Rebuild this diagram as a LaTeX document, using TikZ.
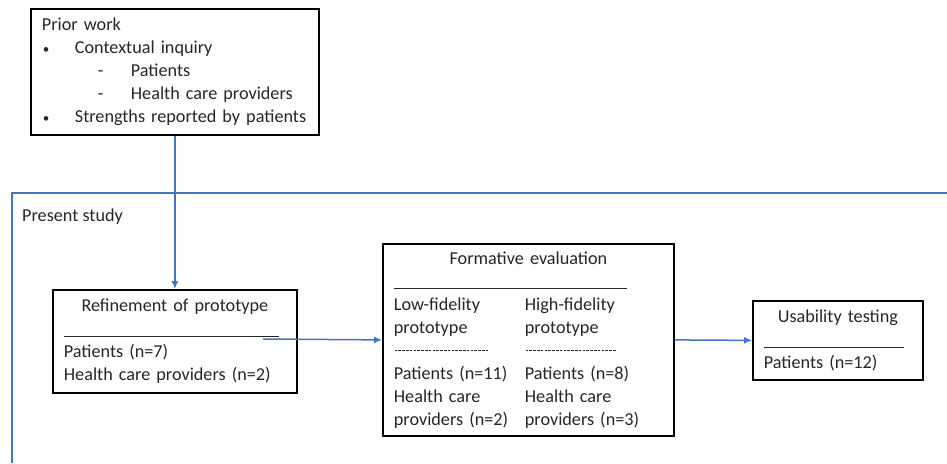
\documentclass[tikz,border=0pt]{standalone}
\usepackage{fontspec}
\setmainfont{Carlito}
\usepackage{tikz}
\usetikzlibrary{arrows.meta}
\definecolor{flowblue}{HTML}{4472C4}
\tikzset{box/.style={draw, line width=1.8pt, anchor=north west, inner xsep=11pt, inner ysep=0pt, align=left, font=\fontsize{18.2}{23}\selectfont, text=black!85}}
\tikzset{
		% blue connectors and the frame of the present study
		flow/.style={draw=flowblue, line width=1.5pt, -{Latex[length=8pt,width=7pt]}},
		frame/.style={draw=flowblue, line width=1.5pt},
	}
\newcommand{\uline}[1]{\rule[-2pt]{#1}{0.8pt}}
\newcommand{\dline}[1]{\makebox[#1][l]{\leaders\hbox to 3.8pt{\hss\rule[5.5pt]{2.6pt}{0.5pt}\hss}\hskip #1}}
\newcommand{\bul}{\makebox[33pt][l]{\hspace*{1pt}{\fontsize{13}{13}\selectfont •}}}
\begin{document}
\begin{tikzpicture}[x=1pt,y=-1pt]
		\useasboundingbox (0,0) rectangle (947,463);
		
		\node[box, minimum width=288pt, text width=266pt, minimum height=126pt] (prior) at (30,8) {Prior work\\
			\mbox{\bul Contextual inquiry}\\
			\mbox{\hspace*{56pt}\makebox[33pt][l]{-}Patients}\\
			\mbox{\hspace*{56pt}\makebox[33pt][l]{-}Health care providers}\\
			\mbox{\bul Strengths reported by patients}};
		
		\coordinate (fbl) at (12,463);
		\coordinate (ftr) at (947,193);
		\draw[frame] (fbl) |- (ftr);
		\node[anchor=west, inner sep=0pt, font=\fontsize{18.2}{23}\selectfont, text=black!85] (present) at (22,217) {Present study};
		
		\node[box, minimum width=244pt, text width=222pt, minimum height=103pt] (refine) at (52,289) {\makebox[222pt]{Refinement of prototype}\\
			\uline{215pt}\\
			Patients (n=7)\\
			Health care providers (n=2)};
		\node[box, minimum width=291pt, text width=269pt, minimum height=192pt] (formative) at (382,243) {\makebox[269pt]{Formative evaluation}\\
			\uline{233pt}\\
			\makebox[131pt][l]{Low-fidelity}High-fidelity\\
			\makebox[131pt][l]{prototype}prototype\\
			\makebox[131pt][l]{\dline{95pt}}\dline{94pt}\\
			\makebox[131pt][l]{Patients (n=11)}Patients (n=8)\\
			\makebox[131pt][l]{Health care}Health care\\
			\makebox[131pt][l]{providers (n=2)}providers (n=3)};
		\node[box, minimum width=170pt, text width=148pt, minimum height=79pt] (usability) at (752,300) {\makebox[148pt]{Usability testing}\\
			\uline{140pt}\\
			Patients (n=12)};
		
		\coordinate (refout) at (263,339);
		\draw[flow] (prior.south) -- (refine.north);
		\draw[flow] (refout) -- (formative.west);
		\draw[flow] (formative.east) -- (usability.west);
		
\end{tikzpicture}
\end{document}
